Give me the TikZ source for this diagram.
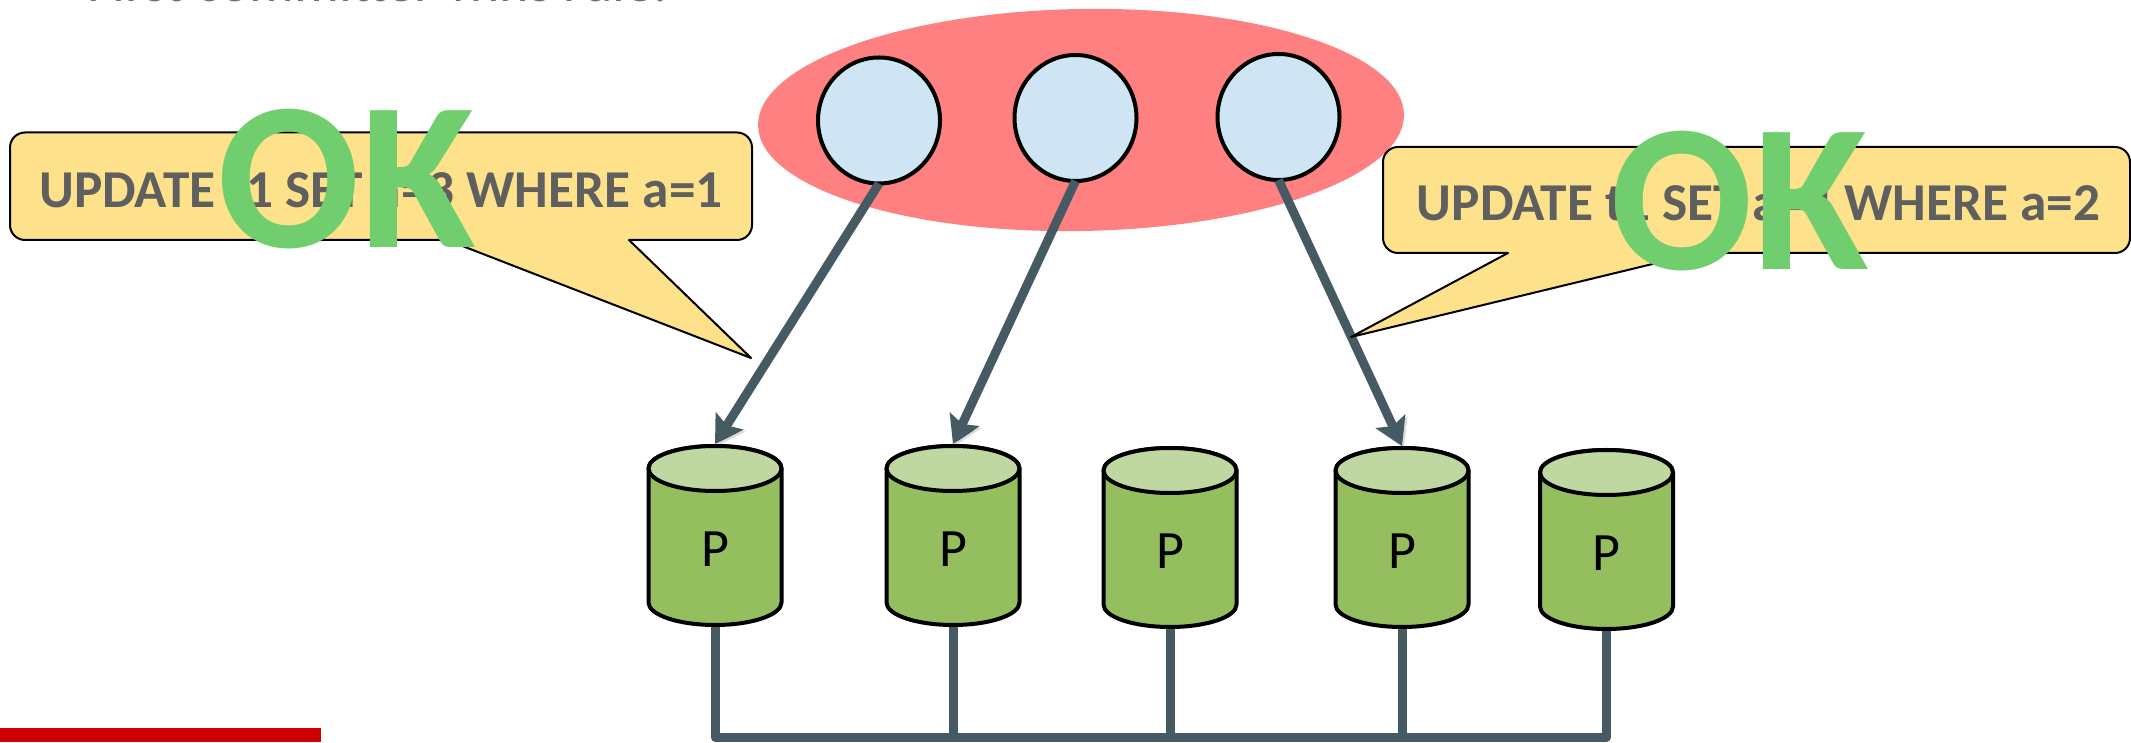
\documentclass[tikz,border=0pt]{standalone}
\usepackage{fontspec}
\setmainfont{Carlito}
\usetikzlibrary{shapes.geometric,arrows.meta}
\definecolor{slate}{HTML}{465A64}
\definecolor{rosy}{HTML}{FF8080}
\definecolor{paleblue}{HTML}{CFE5F3}
\definecolor{bubble}{HTML}{FDE28B}
\definecolor{sqlgrey}{HTML}{5F5F5F}
\definecolor{okgreen}{HTML}{70CE6E}
\definecolor{cylbody}{HTML}{95BE5E}
\definecolor{cyltop}{HTML}{BFD7A0}
\definecolor{titlegrey}{HTML}{707070}
\definecolor{barred}{HTML}{CC0000}
\tikzset{
  x=1pt,y=1pt,
  shadowed/.style={preaction={draw=black,draw opacity=.14,transform canvas={shift={(2pt,-2pt)}}}},
  link/.style={draw=slate,line width=9pt,shadowed},
  arrowlink/.style={link,-{Stealth[length=27pt,width=32pt,inset=5pt]}},
  buslink/.style={link,line join=round},
  worker/.style={ellipse,draw=black,line width=4pt,fill=paleblue,minimum width=122pt,minimum height=126pt,inner sep=0pt,outer sep=0pt},
  group/.style={ellipse,fill=rosy,minimum width=646pt,minimum height=222pt,inner sep=0pt,rotate=1},
  cylbox/.style={rectangle,minimum width=137pt,minimum height=183pt,inner sep=0pt,outer sep=0pt},
  cyloutline/.style={draw=black,line width=4pt,line join=round},
  plabel/.style={anchor=base,text=black,inner sep=0pt,font=\fontsize{54}{60}\selectfont},
  callout/.style={draw=black,line width=2pt,fill=bubble,line join=round},
  sqltext/.style={anchor=base,text=sqlgrey,inner sep=0pt,font=\bfseries\fontsize{53.3}{60}\selectfont},
  oktext/.style={anchor=base,text=okgreen,inner sep=0pt,font=\bfseries\fontsize{211}{220}\selectfont},
}
\newcommand{\dbcyl}[3]{% name, centre x, top y
  \node[cylbox] (#1) at (#2,#3-91.5) {};
  \path[cyloutline,fill=cylbody] (#2-66.5,#3-24.5) -- (#2-66.5,#3-158.5) arc[start angle=180,end angle=360,x radius=66.5pt,y radius=22.5pt] -- (#2+66.5,#3-24.5) arc[start angle=0,end angle=180,x radius=66.5pt,y radius=22.5pt] -- cycle;
  \path[cyloutline,fill=cyltop] (#2,#3-24.5) ellipse[x radius=66.5pt,y radius=22.5pt];
  \node[plabel] (#1p) at (#2,#3-123) {P};
}
\begin{document}
\begin{tikzpicture}
\useasboundingbox (0,0) rectangle (2131,742);
\fill[white] (0,0) rectangle (2131,742);
\node[anchor=base west,inner sep=0pt,text=titlegrey,font=\fontsize{56}{60}\selectfont] (title) at (87,740) {First committer wins rule.};
\fill[barred] (0,0) rectangle (321,14);
\node[group] (grp) at (1081,622) {};
\node[worker] (w1) at (879,621.5) {};
\node[worker] (w2) at (1075.5,624) {};
\node[worker] (w3) at (1278.5,625) {};
\dbcyl{c1}{715}{298}
\dbcyl{c2}{953}{298}
\dbcyl{c3}{1170}{296}
\dbcyl{c4}{1402}{296}
\dbcyl{c5}{1606.5}{294}
\path[arrowlink] (w1.south) -- (c1.north);
\path[arrowlink] (w2.south) -- (c2.north);
\path[arrowlink] (w3.south) -- (c4.north);
\coordinate (bus) at (1160,5);
\path[buslink] (c1.south) |- (bus) -| (c5.south);
\path[link] (c2.south) -- (c2.south |- bus);
\path[link] (c3.south) -- (c3.south |- bus);
\path[link] (c4.south) -- (c4.south |- bus);
\path[callout] [rounded corners=15pt] (447,502) -- (10,502) -- (10,609.5) -- (752,609.5) -- (752,502) [sharp corners] -- (629,502) -- (751,384) -- cycle;
\path[callout] [rounded corners=15pt] (1698,489) -- (2130,489) -- (2130,595) -- (1383,595) -- (1383,489) [sharp corners] -- (1508,489) -- (1351,405) -- cycle;
\node[sqltext] (q1) at (381,534) {UPDATE t1 SET a=3 WHERE a=1};
\node[sqltext] (q2) at (1758.5,521) {UPDATE t1 SET a=4 WHERE a=2};
\node[oktext] (ok1) at (347,494) {OK};
\node[oktext] (ok2) at (1739.5,472) {OK};
\end{tikzpicture}
\end{document}
